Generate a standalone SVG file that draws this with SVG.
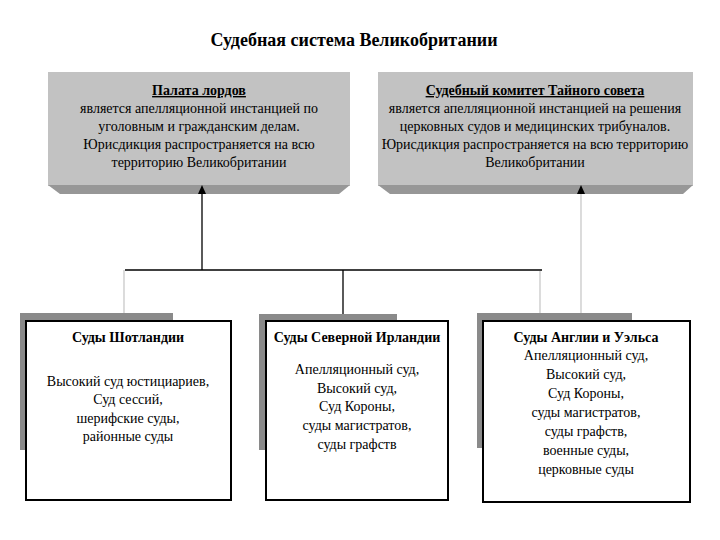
<svg xmlns="http://www.w3.org/2000/svg" width="720" height="540" viewBox="0 0 720 540">
<style>
text{font-family:"Liberation Serif","Times New Roman","DejaVu Serif",serif;font-size:14px;fill:#000;text-anchor:middle}
.t{font-weight:bold}
.u{text-decoration:underline}
.face{fill:#c2c2c2}
.bevel{fill:#979797}
.sh{fill:#8a8a8a}
.box{fill:#fff;stroke:#000;stroke-width:2}
.ln{stroke:#000;stroke-width:1.3;fill:none}
.lg{stroke:#c4c4c4;stroke-width:1.2;fill:none}
</style>
<text x="354" y="46" class="t" style="font-size:18px">Судебная система Великобритании</text>

<g id="lords">
<rect class="face" x="48" y="72" width="302" height="114"/>
<polygon class="bevel" points="48,185 350,185 339,194 60,194"/>
<text x="199" y="95" class="t u">Палата лордов</text>
<text x="199" y="113">является апелляционной инстанцией по</text>
<text x="199" y="131">уголовным и гражданским делам.</text>
<text x="199" y="149">Юрисдикция распространяется на всю</text>
<text x="199" y="167">территорию Великобритании</text>
</g>

<g id="privy">
<rect class="face" x="378" y="72" width="315" height="114"/>
<polygon class="bevel" points="378,185 693,185 683,194 390,194"/>
<text x="535" y="95" class="t u">Судебный комитет Тайного совета</text>
<text x="535" y="113">является апелляционной инстанцией на решения</text>
<text x="535" y="131">церковных судов и медицинских трибуналов.</text>
<text x="535" y="149">Юрисдикция распространяется на всю территорию</text>
<text x="535" y="167">Великобритании</text>
</g>

<g id="connectors">
<line class="ln" x1="125" y1="270" x2="542" y2="270"/>
<line class="ln" x1="202" y1="270" x2="202" y2="192"/>
<path d="M198,194 L202,185 L206,194 z" fill="#000"/>
<line class="ln" x1="343" y1="270" x2="343" y2="321"/>
<line class="lg" x1="124" y1="270" x2="124" y2="314"/>
<line class="lg" x1="540" y1="271" x2="540" y2="314"/>
<line class="lg" x1="581" y1="314" x2="581" y2="192"/>
<path d="M577,194 L581,185 L585,194 z" fill="#000"/>
</g>

<g id="scotland">
<rect class="sh" x="20" y="313" width="153" height="137"/>
<rect class="box" x="26" y="321" width="205" height="179"/>
<text x="128" y="342" class="t">Суды Шотландии</text>
<text x="128" y="386">Высокий суд юстициариев,</text>
<text x="128" y="404">Суд сессий,</text>
<text x="128" y="423">шерифские суды,</text>
<text x="128" y="441">районные суды</text>
</g>

<g id="nireland">
<rect class="sh" x="259" y="314" width="138" height="136"/>
<rect class="box" x="266" y="321" width="182" height="179"/>
<text x="357" y="342" class="t">Суды Северной Ирландии</text>
<text x="357" y="374">Апелляционный суд,</text>
<text x="357" y="393">Высокий суд,</text>
<text x="357" y="411">Суд Короны,</text>
<text x="357" y="430">суды магистратов,</text>
<text x="357" y="449">суды графств</text>
</g>

<g id="england">
<rect class="sh" x="477" y="313" width="155" height="135"/>
<rect class="box" x="483" y="321" width="207" height="181"/>
<text x="586" y="342" class="t">Суды Англии и Уэльса</text>
<text x="586" y="360">Апелляционный суд,</text>
<text x="586" y="379">Высокий суд,</text>
<text x="586" y="398">Суд Короны,</text>
<text x="586" y="417">суды магистратов,</text>
<text x="586" y="436">суды графств,</text>
<text x="586" y="455">военные суды,</text>
<text x="586" y="474">церковные суды</text>
</g>
</svg>
